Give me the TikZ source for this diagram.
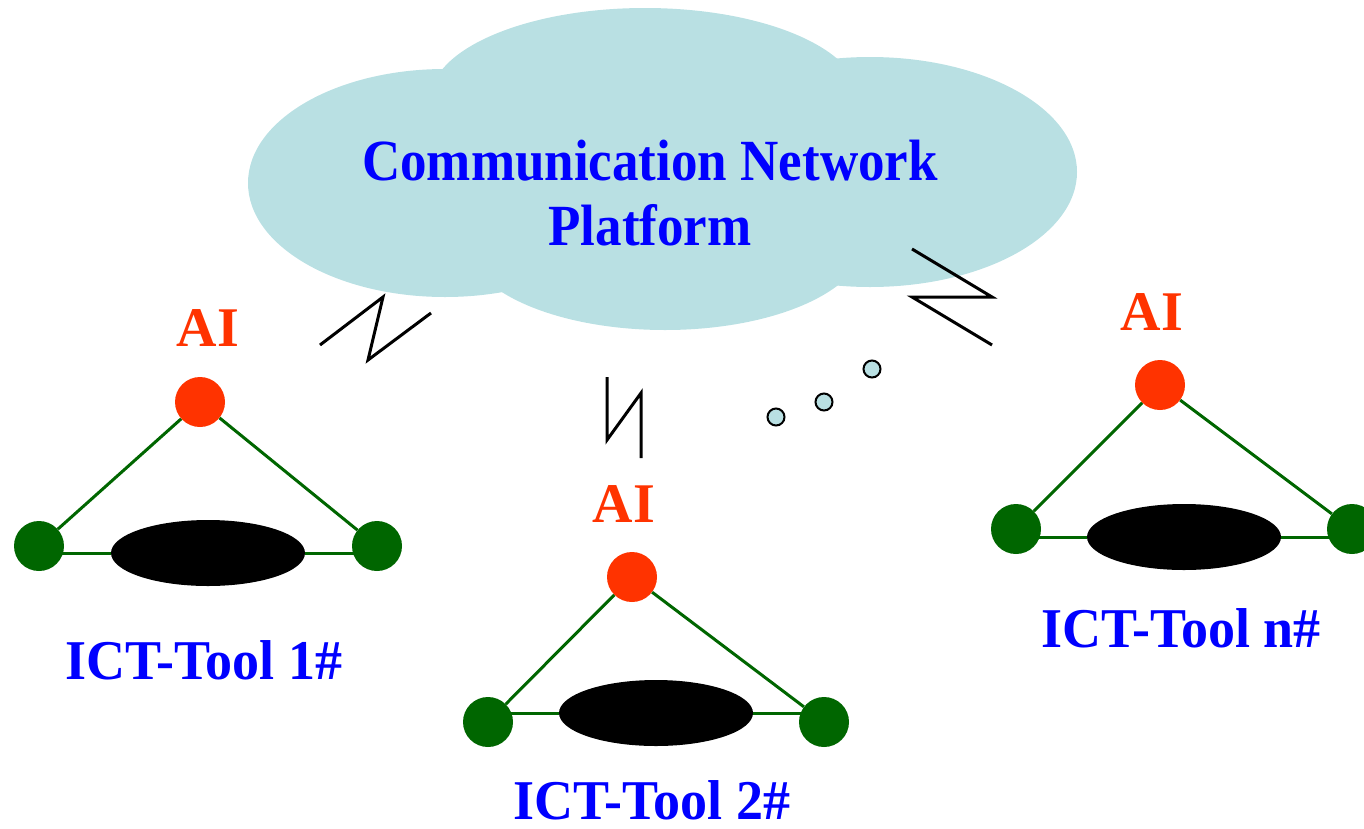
\documentclass[tikz,border=0pt]{standalone}
\usepackage{fontspec}
\setmainfont{Liberation Serif}
\usepackage{graphicx}
\usetikzlibrary{shapes.geometric}
\definecolor{cloudblue}{RGB}{185,224,227}
\definecolor{aired}{RGB}{255,51,0}
\definecolor{leafgreen}{RGB}{0,102,0}
\newcommand{\tallbox}[1]{\scalebox{1}[1.1]{#1}}
\newcommand{\labelbox}[1]{\scalebox{1}[1.04]{#1}}

\begin{document}
\begin{tikzpicture}[x=1pt, y=-1pt,
        ai/.style={circle, fill=aired, minimum size=50pt, inner sep=0pt},
        leaf/.style={circle, fill=leafgreen, minimum size=50pt, inner sep=0pt},
        disk/.style={ellipse, fill=black, minimum width=194pt, minimum height=66pt, inner sep=0pt},
        link/.style={leafgreen, line width=3pt},
        bolt/.style={black, line width=3pt},
        dot/.style={circle, draw=black, line width=2pt, fill=cloudblue, minimum size=17pt, inner sep=0pt},
        ailabel/.style={text=aired, inner sep=0pt, font=\fontsize{56}{56}\selectfont\bfseries},
        toollabel/.style={text=blue, inner sep=0pt, font=\fontsize{54}{54}\selectfont\bfseries}]
        \useasboundingbox (0,0) rectangle (1364,828);
        % The cloud
        \fill[cloudblue] (445,183) ellipse (197 and 114);
        \fill[cloudblue] (645,100) ellipse (215 and 92);
        \fill[cloudblue] (870,172) ellipse (207 and 115);
        \fill[cloudblue] (665,240) ellipse (200 and 90);
        \fill[cloudblue] (660,180) ellipse (300 and 110);
        \node[text=blue, inner sep=0pt, font=\fontsize{53}{59}\selectfont\bfseries] (cloud) at (650,200)
                {\tallbox{\begin{tabular}{@{}c@{}}Communication Network\\Platform\end{tabular}}};
        % Radio links
        \draw[bolt] (320,345) -- (383,297) -- (368,360) -- (431,313);
        \draw[bolt] (607,377) -- (607,440) -- (641,393) -- (641,458);
        \draw[bolt] (912,249) -- (992,297) -- (912,297) -- (992,345);
        % Dots
        \node[dot] (dotA) at (776,417) {};
        \node[dot] (dotB) at (824,402) {};
        \node[dot] (dotC) at (872,369) {};
        % ICT-Tool 1#
        \node[ai] (t1ai) at (200,402) {};
        \node[leaf] (t1l) at (39,546) {};
        \node[leaf] (t1r) at (377,546) {};
        \node[disk] (t1disk) at (208,553) {};
        \node[ailabel] (t1ailab) at (208,328) {AI};
        \node[toollabel] (t1lab) at (204,660) {\labelbox{ICT-Tool 1\#}};
        \draw[link] (t1ai) -- (t1l);
        \draw[link] (t1ai) -- (t1r);
        \draw[link] (t1l.center |- t1disk) -- (t1disk.west);
        \draw[link] (t1disk.east) -- (t1r.center |- t1disk);
        % ICT-Tool 2#
        \node[ai] (t2ai) at (632,577) {};
        \node[leaf] (t2l) at (488,722) {};
        \node[leaf] (t2r) at (824,722) {};
        \node[disk] (t2disk) at (656,713) {};
        \node[ailabel] (t2ailab) at (624,504) {AI};
        \node[toollabel] (t2lab) at (652,800) {\labelbox{ICT-Tool 2\#}};
        \draw[link] (t2ai) -- (t2l);
        \draw[link] (t2ai) -- (t2r);
        \draw[link] (t2l.center |- t2disk) -- (t2disk.west);
        \draw[link] (t2disk.east) -- (t2r.center |- t2disk);
        % ICT-Tool n#
        \node[ai] (tnai) at (1160,385) {};
        \node[leaf] (tnl) at (1016,529) {};
        \node[leaf] (tnr) at (1352,529) {};
        \node[disk] (tndisk) at (1184,537) {};
        \node[ailabel] (tnailab) at (1152,312) {AI};
        \node[toollabel] (tnlab) at (1181,628) {\labelbox{ICT-Tool n\#}};
        \draw[link] (tnai) -- (tnl);
        \draw[link] (tnai) -- (tnr);
        \draw[link] (tnl.center |- tndisk) -- (tndisk.west);
        \draw[link] (tndisk.east) -- (tnr.center |- tndisk);
\end{tikzpicture}
\end{document}
